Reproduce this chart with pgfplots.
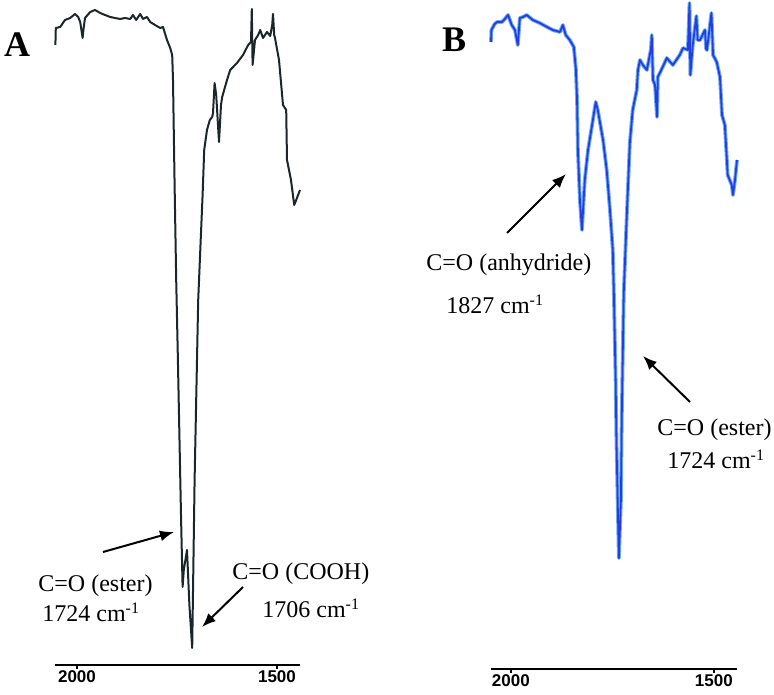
\documentclass[border=0pt]{standalone}
\usepackage{fontspec}
\setmainfont{Liberation Serif}
\newfontfamily\arial{Liberation Sans}
\usepackage{pgfplots}
\pgfplotsset{compat=1.18}
\usetikzlibrary{arrows.meta}

\definecolor{specA}{RGB}{28,38,40}
\definecolor{specBlight}{RGB}{110,175,240}
\definecolor{specB}{RGB}{35,60,230}

\pgfplotsset{
  irpanel/.style={
    scale only axis,
    enlargelimits=false,
    clip=false,
    x dir=reverse,
    axis x line=bottom,
    hide y axis,
    x axis line style={-, line width=1.2pt},
    xtick={1500,2000},
    xticklabels={1500,2000},
    tick style={line width=0.9pt, black},
    major tick length=2pt,
    xtick align=outside,
    xticklabel style={font=\arial\bfseries\fontsize{8.5}{10}\selectfont, inner sep=0.8pt},
    ymin=0,
  },
}

\begin{document}
\begin{tikzpicture}
\path[use as bounding box] (0,0) rectangle (387pt,347pt);

% panel A
\begin{axis}[irpanel, at={(27.5pt,14.5pt)}, anchor=south west,
  width=122.5pt, height=332.5pt, xmin=1442.5, xmax=2055, ymax=665]
\addplot[specA, line width=1pt, line join=round] coordinates {
(2054,620) (2053,637) (2042,638) (2030,645) (2017,647) (2005,651) (1997,648)
(1992,643) (1986,627) (1984,635) (1980,647) (1967,653) (1955,655) (1942,652)
(1930,650) (1917,648) (1905,647) (1892,646) (1880,647) (1867,646) (1860,650)
(1852,645) (1842,651) (1835,646) (1825,648) (1817,643) (1805,640) (1792,637)
(1785,638) (1775,625) (1767,617) (1762,610)
(1760,585) (1756,480) (1752,385) (1748,310) (1744,230) (1740,150) (1736,78)
(1733,95) (1725,115) (1719,60) (1712,17) (1706,185) (1702,265) (1697,365)
(1690,432) (1686,470) (1682,515) (1675,535) (1668,545) (1662,548) (1660,552)
(1656,582) (1652,570) (1645,523) (1640,560) (1637,568) (1625,585) (1617,595)
(1600,602) (1585,610) (1572,620) (1565,623) (1563,656) (1561,600) (1555,625)
(1547,630) (1542,635) (1535,627) (1525,633) (1517,629) (1512,640) (1510,651)
(1507,630) (1505,627) (1495,605) (1485,560) (1477,555) (1475,505) (1465,485)
(1457,460) (1452,465) (1442.5,475)
};
\end{axis}

% panel B
\begin{axis}[irpanel, at={(245.5pt,12.5pt)}, anchor=south west,
  width=123pt, height=334.5pt, xmin=1443, xmax=2049, ymax=669]
\pgfplotsset{cycle list={{specBlight, line width=1.9pt},{specB, line width=0.9pt}}}
\foreach \k in {1,2}{
\addplot+[no marks, line join=round] coordinates {
(2049,627) (2048,639) (2040,645) (2034,647) (2022,647) (2015,650) (2007,654)
(1998,644) (1990,639) (1983,624) (1978,651) (1970,652) (1961,654) (1946,649)
(1929,646) (1911,642) (1897,639) (1879,637) (1872,644) (1865,634) (1855,629)
(1845,622) (1840,600) (1837,569) (1835,519) (1830,469) (1825,439) (1818,489)
(1810,519) (1800,544) (1791,567) (1786,559) (1773,529) (1764,499) (1756,459)
(1749,419) (1746,369) (1742,289) (1740,229) (1737,169) (1734,111) (1729,169)
(1727,249) (1722,376) (1714,459) (1707,526) (1700,559) (1695,569) (1690,579)
(1687,599) (1682,609) (1675,604) (1665,599) (1655,620) (1653,634) (1650,589)
(1645,584) (1640,552) (1638,592) (1626,602) (1616,611) (1601,604) (1584,614)
(1576,621) (1564,619) (1560,666) (1558,594) (1552,624) (1543,653) (1540,629)
(1534,629) (1522,639) (1519,620) (1517,619) (1506,656) (1502,614) (1493,607)
(1485,592) (1480,554) (1473,544) (1468,509) (1466,494) (1456,484) (1453,474)
(1448,489) (1443,509)
};
}
\end{axis}

% annotations, in picture pixels (y downwards)
\begin{scope}[x=0.5pt, y=-0.5pt, yshift=347pt,
  arr/.style={-{Latex[length=7pt,width=5.5pt]}, line width=1pt, black},
  lab/.style={font=\fontsize{12}{14}\selectfont, inner sep=0pt, anchor=base west}]
  \node[font=\bfseries\fontsize{18}{20}\selectfont] at (17,45) {A};
  \node[font=\bfseries\fontsize{18}{20}\selectfont] at (454,40) {B};

  \draw[arr] (103,552) -- (174,532);
  \draw[arr] (243,587) -- (202,627);
  \node[lab] at (38,592) {C=O (ester)};
  \node[lab] at (42,622) {1724 cm\textsuperscript{-1}};
  \node[lab] at (232,580) {C=O (COOH)};
  \node[lab] at (262,618) {1706 cm\textsuperscript{-1}};

  \draw[arr] (507,233) -- (566,174);
  \draw[arr] (690,402) -- (643,356);
  \node[lab] at (426,271) {C=O (anhydride)};
  \node[lab] at (446,314) {1827 cm\textsuperscript{-1}};
  \node[lab] at (657,436) {C=O (ester)};
  \node[lab] at (667,469) {1724 cm\textsuperscript{-1}};
\end{scope}
\end{tikzpicture}
\end{document}
